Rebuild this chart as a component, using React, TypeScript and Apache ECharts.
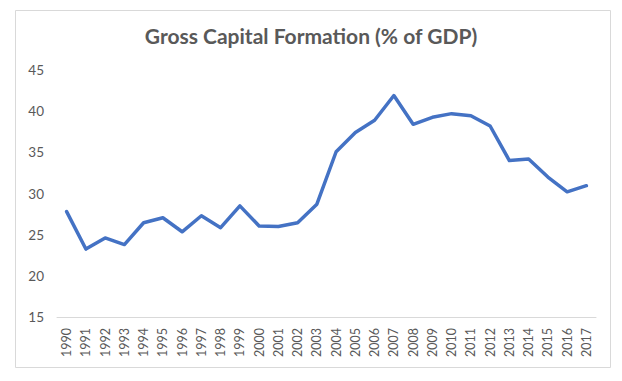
import React, { useEffect, useRef } from "react";
import * as echarts from "echarts";

const years = [
  "1990", "1991", "1992", "1993", "1994", "1995", "1996", "1997", "1998", "1999",
  "2000", "2001", "2002", "2003", "2004", "2005", "2006", "2007", "2008", "2009",
  "2010", "2011", "2012", "2013", "2014", "2015", "2016", "2017",
];
const gcfValues = [
  27.8, 23.25, 24.6, 23.8, 26.45, 27.05, 25.35, 27.3, 25.85, 28.5,
  26.05, 26.0, 26.45, 28.7, 35.07, 37.4, 38.9, 41.9, 38.4, 39.25,
  39.7, 39.45, 38.2, 34.0, 34.2, 32.0, 30.2, 30.95,
];
const titleText = "Gross Capital Formation (% of GDP)";

export default function App() {
  const ref = useRef<HTMLDivElement>(null);
  useEffect(() => {
    if (!ref.current) return;
    const chart = echarts.init(ref.current, null, { renderer: "svg" });
    chart.setOption({
      animation: false,
      backgroundColor: "#ffffff",
      textStyle: { fontFamily: "Lato" },
      title: {
        text: titleText,
        left: "center",
        top: 20,
        textStyle: { fontFamily: "Lato", fontSize: 21, fontWeight: "bold", color: "#595959" },
      },
      graphic: [
        {
          type: "rect",
          shape: { x: 15.5, y: 10.5, width: 595, height: 357 },
          style: { fill: "none", stroke: "#d9d9d9", lineWidth: 1 },
          silent: true,
        },
      ],
      grid: { left: 57, right: 26, top: 70, bottom: 64 },
      xAxis: {
        type: "category",
        data: years,
        boundaryGap: true,
        axisLine: { lineStyle: { color: "#d9d9d9", width: 1 } },
        axisTick: { show: false },
        axisLabel: {
          rotate: 90,
          margin: 11,
          fontSize: 12.5,
          color: "#595959",
          fontFamily: "Lato",
          interval: 0,
        },
      },
      yAxis: {
        type: "value",
        min: 15,
        max: 45,
        interval: 5,
        splitLine: { show: false },
        axisLine: { show: false },
        axisTick: { show: false },
        axisLabel: { fontSize: 13.5, color: "#595959", margin: 13, fontFamily: "Lato" },
      },
      series: [
        {
          type: "line",
          data: gcfValues,
          symbol: "none",
          lineStyle: { color: "#4472C4", width: 3.5, join: "round", cap: "round" },
        },
      ],
    });
    return () => chart.dispose();
  }, []);
  return (
    <div
      ref={ref}
      style={{ position: "absolute", left: 0, top: 0, width: 622, height: 381 }}
    />
  );
}
